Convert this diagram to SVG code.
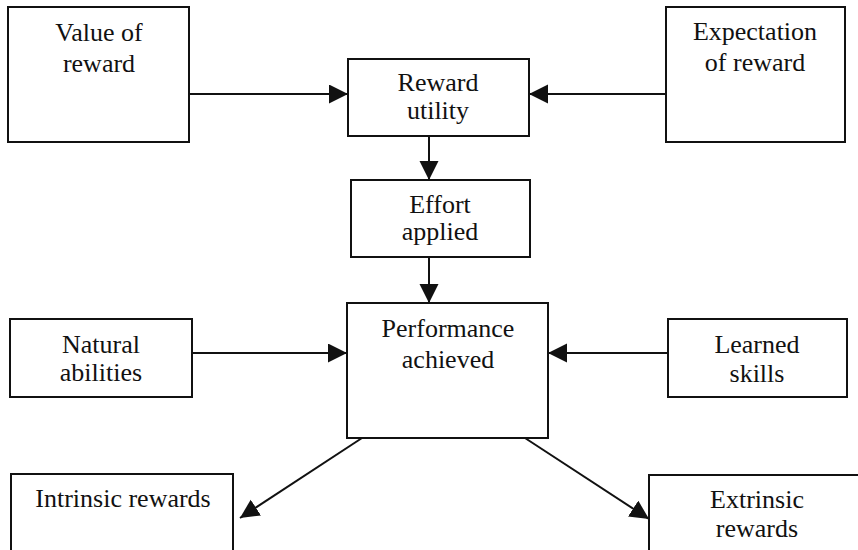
<svg xmlns="http://www.w3.org/2000/svg" width="858" height="550" viewBox="0 0 858 550">
  <style>
    .box { fill: #ffffff; stroke: #111111; stroke-width: 2; }
    .lbl { font-family: "Liberation Serif", "Times New Roman", serif; font-size: 26px; fill: #111111; text-anchor: middle; }
    .wire { stroke: #111111; stroke-width: 2; fill: none; marker-end: url(#head); }
  </style>
  <defs>
    <marker id="head" markerUnits="userSpaceOnUse" markerWidth="20" markerHeight="20" refX="19" refY="9.5" orient="auto">
      <path d="M0,0 L19,9.5 L0,19 Z" fill="#111111"/>
    </marker>
  </defs>
  <rect width="858" height="550" fill="#ffffff"/>

  <g id="connectors">
    <line class="wire" x1="190" y1="94" x2="348" y2="94"/>
    <line class="wire" x1="666" y1="94" x2="529" y2="94"/>
    <line class="wire" x1="429" y1="136" x2="429" y2="180"/>
    <line class="wire" x1="429" y1="257" x2="429" y2="303"/>
    <line class="wire" x1="192" y1="353" x2="347" y2="353"/>
    <line class="wire" x1="668" y1="353" x2="548" y2="353"/>
    <line class="wire" x1="362" y1="438" x2="240" y2="518"/>
    <line class="wire" x1="525" y1="438" x2="649" y2="519"/>
  </g>

  <g id="value-of-reward">
    <rect class="box" x="8" y="7" width="181" height="135"/>
    <text class="lbl" x="99" y="41">Value of</text>
    <text class="lbl" x="99" y="72">reward</text>
  </g>

  <g id="expectation-of-reward">
    <rect class="box" x="666" y="7" width="179" height="135"/>
    <text class="lbl" x="755" y="40">Expectation</text>
    <text class="lbl" x="755" y="71">of reward</text>
  </g>

  <g id="reward-utility">
    <rect class="box" x="348" y="59" width="181" height="77"/>
    <text class="lbl" x="438" y="91">Reward</text>
    <text class="lbl" x="438" y="119">utility</text>
  </g>

  <g id="effort-applied">
    <rect class="box" x="351" y="180" width="179" height="77"/>
    <text class="lbl" x="440" y="213">Effort</text>
    <text class="lbl" x="440" y="240">applied</text>
  </g>

  <g id="performance-achieved">
    <rect class="box" x="347" y="303" width="201" height="135"/>
    <text class="lbl" x="448" y="337">Performance</text>
    <text class="lbl" x="448" y="368">achieved</text>
  </g>

  <g id="natural-abilities">
    <rect class="box" x="10" y="319" width="182" height="78"/>
    <text class="lbl" x="101" y="353">Natural</text>
    <text class="lbl" x="101" y="381">abilities</text>
  </g>

  <g id="learned-skills">
    <rect class="box" x="668" y="319" width="179" height="78"/>
    <text class="lbl" x="757" y="353">Learned</text>
    <text class="lbl" x="757" y="382">skills</text>
  </g>

  <g id="intrinsic-rewards">
    <rect class="box" x="11" y="474" width="222" height="90"/>
    <text class="lbl" x="123" y="507">Intrinsic rewards</text>
  </g>

  <g id="extrinsic-rewards">
    <rect class="box" x="649" y="475" width="230" height="90"/>
    <text class="lbl" x="757" y="508">Extrinsic</text>
    <text class="lbl" x="757" y="537">rewards</text>
  </g>
</svg>
